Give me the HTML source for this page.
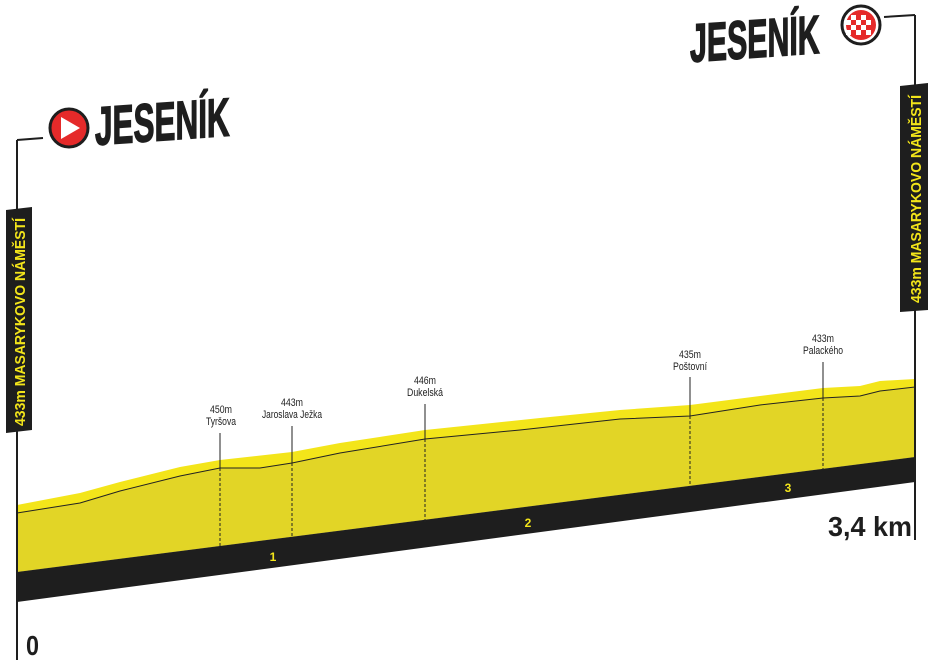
<!DOCTYPE html>
<html><head><meta charset="utf-8"><style>
body{margin:0;background:#fff}
svg{display:block}
.t{font-family:"Liberation Sans Narrow","Liberation Sans",sans-serif}
</style></head><body>
<svg width="933" height="661" viewBox="0 0 933 661" xmlns="http://www.w3.org/2000/svg">
<polygon points="17,505 80,493 120,482 180,467 220,460 292,452 340,443 425,430 540,418 620,410 690,405 760,396 823,388 860,386 880,381 915,379 915,457 17,572" fill="#f3e51a"/>
<polygon points="17,513 80,503 120,491 180,476 220,468 260,468 292,463 340,453 425,439 520,430 620,419 690,416 760,405 823,398 860,396 880,391 915,387 915,457 17,572" fill="#e2d526"/>
<polyline points="17,513 80,503 120,491 180,476 220,468 260,468 292,463 340,453 425,439 520,430 620,419 690,416 760,405 823,398 860,396 880,391 915,387" fill="none" stroke="#222" stroke-width="1"/>
<polygon points="17,572 915,457 915,482 17,602" fill="#1e1e1e"/>
<line x1="17" y1="140" x2="17" y2="660" stroke="#1e1e1e" stroke-width="2"/>
<line x1="17" y1="140" x2="43" y2="138" stroke="#1e1e1e" stroke-width="2"/>
<line x1="915" y1="15" x2="915" y2="540" stroke="#1e1e1e" stroke-width="2"/>
<line x1="884" y1="17" x2="915" y2="15" stroke="#1e1e1e" stroke-width="2"/>
<g stroke="#222" stroke-width="1">
<line x1="220" y1="433" x2="220" y2="468"/><line x1="220" y1="468" x2="220" y2="548" stroke-dasharray="3,2"/>
<line x1="292" y1="426" x2="292" y2="463"/><line x1="292" y1="463" x2="292" y2="540" stroke-dasharray="3,2"/>
<line x1="425" y1="404" x2="425" y2="439"/><line x1="425" y1="439" x2="425" y2="524" stroke-dasharray="3,2"/>
<line x1="690" y1="377" x2="690" y2="416"/><line x1="690" y1="416" x2="690" y2="489" stroke-dasharray="3,2"/>
<line x1="823" y1="362" x2="823" y2="398"/><line x1="823" y1="398" x2="823" y2="470" stroke-dasharray="3,2"/>
</g>
<g class="t" font-size="11" fill="#1e1e1e" text-anchor="middle">
<text x="221" y="413" textLength="22" lengthAdjust="spacingAndGlyphs">450m</text><text x="221" y="425" textLength="30" lengthAdjust="spacingAndGlyphs">Tyršova</text>
<text x="292" y="406" textLength="22" lengthAdjust="spacingAndGlyphs">443m</text><text x="292" y="418" textLength="60" lengthAdjust="spacingAndGlyphs">Jaroslava Ježka</text>
<text x="425" y="384" textLength="22" lengthAdjust="spacingAndGlyphs">446m</text><text x="425" y="396" textLength="36" lengthAdjust="spacingAndGlyphs">Dukelská</text>
<text x="690" y="358" textLength="22" lengthAdjust="spacingAndGlyphs">435m</text><text x="690" y="370" textLength="34" lengthAdjust="spacingAndGlyphs">Poštovní</text>
<text x="823" y="342" textLength="22" lengthAdjust="spacingAndGlyphs">433m</text><text x="823" y="354" textLength="40" lengthAdjust="spacingAndGlyphs">Palackého</text>
</g>
<g class="t" font-size="12" fill="#f3e51a" text-anchor="middle" font-weight="bold">
<text x="273" y="561">1</text><text x="528" y="527">2</text><text x="788" y="492">3</text>
</g>
<polygon points="6,210 32,207 32,430 6,433" fill="#1e1e1e"/>
<text class="t" transform="translate(25,426) rotate(-90)" font-size="15" font-weight="bold" fill="#f3e51a" textLength="208" lengthAdjust="spacingAndGlyphs">433m MASARYKOVO NÁMĚSTÍ</text>
<polygon points="900,86 928,83 928,310 900,312" fill="#1e1e1e"/>
<text class="t" transform="translate(921,303) rotate(-90)" font-size="15" font-weight="bold" fill="#f3e51a" textLength="208" lengthAdjust="spacingAndGlyphs">433m MASARYKOVO NÁMĚSTÍ</text>
<circle cx="69" cy="128" r="19" fill="#e52a2a" stroke="#1e1e1e" stroke-width="3"/>
<polygon points="61,117 61,139 80,128" fill="#fff"/>
<circle cx="861" cy="25" r="19" fill="#fff" stroke="#1e1e1e" stroke-width="3"/>
<circle cx="861" cy="25" r="15" fill="#e52a2a"/>
<g fill="#fff">
<rect x="851" y="15" width="5" height="5"/><rect x="861" y="15" width="5" height="5"/>
<rect x="856" y="20" width="5" height="5"/><rect x="866" y="20" width="5" height="5"/><rect x="846" y="20" width="5" height="5"/>
<rect x="851" y="25" width="5" height="5"/><rect x="861" y="25" width="5" height="5"/>
<rect x="856" y="30" width="5" height="5"/><rect x="866" y="30" width="5" height="5"/><rect x="846" y="30" width="5" height="5"/>
</g>
<text class="t" transform="translate(95,145) rotate(-4) skewX(-4)" font-size="54" font-weight="bold" fill="#1e1e1e" stroke="#1e1e1e" stroke-width="1.5" textLength="135" lengthAdjust="spacingAndGlyphs">JESENÍK</text>
<text class="t" transform="translate(690,62) rotate(-4) skewX(-4)" font-size="54" font-weight="bold" fill="#1e1e1e" stroke="#1e1e1e" stroke-width="1.5" textLength="130" lengthAdjust="spacingAndGlyphs">JESENÍK</text>
<text class="t" x="26" y="655" font-size="28" font-weight="bold" fill="#1e1e1e" textLength="13" lengthAdjust="spacingAndGlyphs">0</text>
<text class="t" x="828" y="536" font-size="28" font-weight="bold" fill="#1e1e1e" textLength="84" lengthAdjust="spacingAndGlyphs">3,4 km</text>
</svg>
</body></html>
